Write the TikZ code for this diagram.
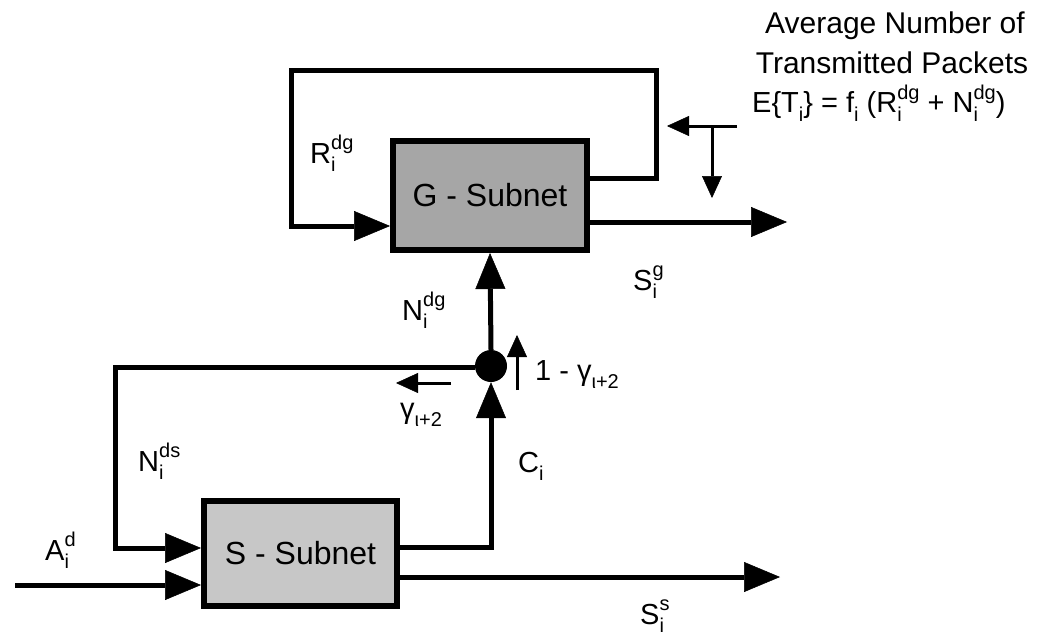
\documentclass[tikz,border=0pt]{standalone}
\usepackage{fontspec}
\setmainfont{Liberation Sans}
\usetikzlibrary{arrows.meta}
\newcommand\smallfnt{\fontsize{20}{20}\selectfont}
\newcommand\supsub[3]{#1\rlap{\raisebox{-0.28em}{\smallfnt #2}}\raisebox{0.45em}{\smallfnt #3}}
\newcommand\subonly[2]{#1\raisebox{-0.28em}{\smallfnt #2}}
\begin{document}
\begin{tikzpicture}[x=1pt,y=-1pt,
  mainline/.style={line width=5pt},
  thinline/.style={line width=3pt},
  bigtip/.style={-{Triangle[length=36pt,width=30pt,line width=0.5pt]}},
  smalltip/.style={-{Triangle[length=22pt,width=20pt,line width=0.5pt]}},
  subnet/.style={draw, line width=6pt, inner sep=0pt, font=\fontsize{32}{32}\selectfont},
  lbl/.style={inner sep=0pt, anchor=base west, font=\fontsize{29}{29}\selectfont},
  toptext/.style={inner sep=0pt, anchor=base, font=\fontsize{30}{30}\selectfont}]
\useasboundingbox (0,0) rectangle (1047,642);
% boxes
\node[subnet, fill=black!35, minimum width=194pt, minimum height=109pt] (G) at (490,195.5) {G - Subnet};
\node[subnet, fill=black!22, minimum width=193pt, minimum height=105pt] (S) at (300.5,553.5) {S - Subnet};
\node[circle, fill=black, inner sep=0pt, minimum width=30pt, minimum height=32pt] (J) at (491,366) {};
% corner coordinates
\coordinate (g1) at (656,178);
\coordinate (g2) at (656,71);
\coordinate (g3) at (291,71);
\coordinate (g4) at (291,226);
\coordinate (gout) at (787,222);
\coordinate (fbs) at (737,126);
\coordinate (fbe) at (667,126);
\coordinate (fbt) at (712,126);
\coordinate (fbd) at (712,198);
\coordinate (c1) at (491,547);
\coordinate (n1) at (115,367);
\coordinate (n2) at (115,548);
\coordinate (ain) at (15,585);
\coordinate (sout) at (780,577);
\coordinate (ga1) at (451,383);
\coordinate (ga2) at (396,383);
\coordinate (gb1) at (517,390);
\coordinate (gb2) at (517,335);
% G loop
\draw[mainline, bigtip] (G.east |- g1) -- (g1) -- (g2) -- (g3) -- (g4) -- (G.west |- g4);
\draw[mainline, bigtip] (G.east |- gout) -- (gout);
\draw[thinline, smalltip] (fbs) -- (fbe);
\draw[thinline, smalltip] (fbt) -- (fbd);
% S side
\draw[mainline, bigtip] (S.east |- c1) -- (c1) -- (J.south);
\draw[mainline, bigtip] (J.north) -- (G.south);
\draw[mainline, bigtip] (J.west |- n1) -- (n1) -- (n2) -- (S.west |- n2);
\draw[mainline, bigtip] (ain) -- (S.west |- ain);
\draw[mainline, bigtip] (S.east |- sout) -- (sout);
\draw[thinline, smalltip] (ga1) -- (ga2);
\draw[thinline, smalltip] (gb1) -- (gb2);
% labels
\node[lbl] (lr) at (310,163) {\supsub{R}{i}{dg}};
\node[lbl] (lndg) at (402,320) {\supsub{N}{i}{dg}};
\node[lbl] (lsg) at (633,290) {\supsub{S}{i}{g}};
\node[lbl] (lgam1) at (535,380) {1 - \subonly{γ}{ι+2}};
\node[lbl] (lgam2) at (400,418) {\subonly{γ}{ι+2}};
\node[lbl] (lc) at (518,472) {\subonly{C}{i}};
\node[lbl] (lnds) at (138,471) {\supsub{N}{i}{ds}};
\node[lbl] (la) at (45,560) {\supsub{A}{i}{d}};
\node[lbl] (lss) at (640,624) {\supsub{S}{i}{s}};
\node[toptext] (t1) at (895,34) {Average Number of};
\node[toptext] (t2) at (892,74) {Transmitted Packets};
\node[lbl] (t3) at (752,113) {E\{\subonly{T}{i}\} = \subonly{f}{i} (\supsub{R}{i}{dg} + \supsub{N}{i}{dg})};
\end{tikzpicture}
\end{document}
